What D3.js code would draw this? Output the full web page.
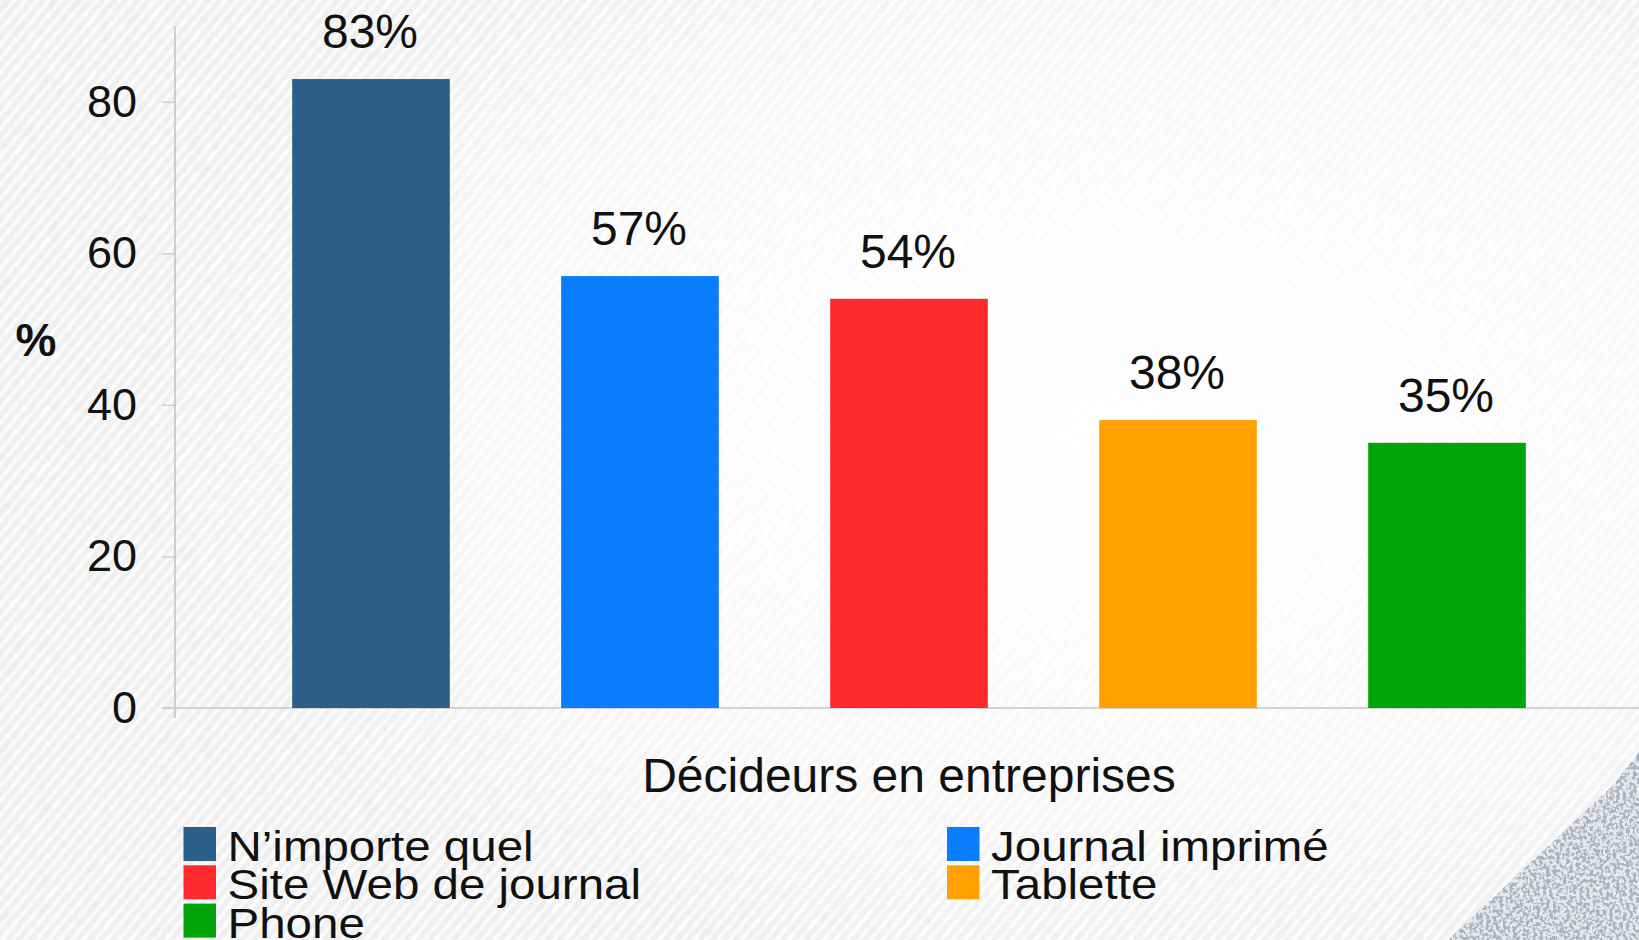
<!DOCTYPE html>
<html lang="fr">
<head>
<meta charset="utf-8">
<title>Décideurs en entreprises</title>
<script src="https://cdn.jsdelivr.net/npm/d3@7"></script>
<style>
  html, body { margin: 0; padding: 0; background: #f2f2f2; }
  svg { display: block; }
  text { font-family: "Liberation Sans", Arial, Helvetica, sans-serif; }
</style>
</head>
<body>
<svg id="chart" width="1639" height="940"></svg>
<script>
// Share of business decision makers reached, by medium
const categories = ["N\u2019importe quel", "Journal imprimé", "Site Web de journal", "Tablette", "Phone"];
const values = [83, 57, 54, 38, 35];
const colors = ["#2b5e88", "#0a7dfc", "#fe2a2e", "#ffa100", "#00a50b"];
const yTicks = [0, 20, 40, 60, 80];
const groupLabel = "Décideurs en entreprises";
const yLabel = "%";

const W = 1639, H = 940;
const svg = d3.select("#chart");
const defs = svg.append("defs");

// ---- textured paper background ----
const hatch = defs.append("pattern")
  .attr("id", "hatch").attr("patternUnits", "userSpaceOnUse")
  .attr("width", 9).attr("height", 9)
  .attr("patternTransform", "rotate(40)");
hatch.append("rect").attr("width", 9).attr("height", 9).attr("fill", "#eeeeee");
hatch.append("rect").attr("width", 4).attr("height", 9).attr("fill", "#fbfbfb");

const glow = defs.append("radialGradient")
  .attr("id", "glow").attr("cx", 0.68).attr("cy", 0.45).attr("r", 0.6);
glow.append("stop").attr("offset", 0).attr("stop-color", "#ffffff").attr("stop-opacity", 0.95);
glow.append("stop").attr("offset", 0.55).attr("stop-color", "#ffffff").attr("stop-opacity", 0.7);
glow.append("stop").attr("offset", 1).attr("stop-color", "#ffffff").attr("stop-opacity", 0.15);

const grain = defs.append("filter").attr("id", "grain")
  .attr("x", 0).attr("y", 0).attr("width", "100%").attr("height", "100%");
grain.append("feTurbulence").attr("type", "fractalNoise")
  .attr("baseFrequency", 0.08).attr("numOctaves", 3).attr("seed", 4).attr("result", "n");
grain.append("feColorMatrix").attr("type", "matrix")
  .attr("values", "0 0 0 0 0.55  0 0 0 0 0.55  0 0 0 0 0.56  0 0 0 -1.6 0.9");

const speck = defs.append("filter").attr("id", "speck")
  .attr("x", 0).attr("y", 0).attr("width", "100%").attr("height", "100%");
speck.append("feTurbulence").attr("type", "fractalNoise")
  .attr("baseFrequency", 0.3).attr("numOctaves", 2).attr("seed", 9).attr("result", "n");
speck.append("feColorMatrix").attr("type", "matrix")
  .attr("values", "0 0 0 0 0.30  0 0 0 0 0.33  0 0 0 0 0.40  0 0 0 -7 3.9").attr("result", "c");
speck.append("feComposite").attr("in", "c").attr("in2", "SourceGraphic").attr("operator", "in");

svg.append("rect").attr("width", W).attr("height", H).attr("fill", "url(#hatch)");
svg.append("rect").attr("width", W).attr("height", H).attr("filter", "url(#grain)").attr("opacity", 0.18);
svg.append("rect").attr("width", W).attr("height", H).attr("fill", "url(#glow)");

// speckled corner decoration
const cornerPath = "M1612,786 L1639,752 L1639,940 L1448,940 Z";
svg.append("path").attr("d", cornerPath).attr("fill", "#e3e5ea").attr("opacity", 0.8);
svg.append("path").attr("d", cornerPath)
  .attr("fill", "#000").attr("filter", "url(#speck)").attr("opacity", 0.7);

// ---- scales ----
const x = d3.scaleBand()
  .domain(categories)
  .range([236.5, 1581.5])
  .paddingInner(0.414)
  .paddingOuter(0.207);

const y = d3.scaleLinear().domain([0, 90]).range([708, 26]);

const axisX = 175;
const g = svg.append("g");

// x baseline
g.append("line")
  .attr("x1", axisX - 13).attr("x2", W)
  .attr("y1", y(0)).attr("y2", y(0))
  .attr("stroke", "#c6c6c6").attr("stroke-width", 1.6);

// y axis
const yAxis = g.append("g")
  .attr("transform", `translate(${axisX},0)`)
  .call(d3.axisLeft(y).tickValues(yTicks).tickSize(13).tickPadding(25).tickFormat(d3.format("d")));
yAxis.select(".domain").remove();
yAxis.selectAll(".tick line").attr("stroke", "#cfcfcf").attr("stroke-width", 1.4);
yAxis.selectAll(".tick text")
  .attr("fill", "#111").attr("font-size", 45)
  .attr("font-family", "'Liberation Sans', Arial, sans-serif");
g.append("line")
  .attr("x1", axisX).attr("x2", axisX)
  .attr("y1", y(90)).attr("y2", y(0) + 10)
  .attr("stroke", "#c4c4c4").attr("stroke-width", 1.6);

// y label
g.append("text")
  .attr("x", 36).attr("y", 356)
  .attr("text-anchor", "middle")
  .attr("font-size", 46).attr("font-weight", "bold").attr("fill", "#111")
  .text(yLabel);

// bars
g.selectAll("rect.bar")
  .data(values)
  .join("rect")
  .attr("class", "bar")
  .attr("x", (d, i) => x(categories[i]))
  .attr("width", x.bandwidth())
  .attr("y", d => y(d))
  .attr("height", d => y(0) - y(d))
  .attr("fill", (d, i) => colors[i]);

// value labels
g.selectAll("text.val")
  .data(values)
  .join("text")
  .attr("class", "val")
  .attr("x", (d, i) => x(categories[i]) + x.bandwidth() / 2 - 1)
  .attr("y", d => y(d) - 31)
  .attr("text-anchor", "middle")
  .attr("font-size", 48).attr("fill", "#111")
  .text(d => d + "%");

// group label under the axis
g.append("text")
  .attr("x", x(categories[2]) + x.bandwidth() / 2)
  .attr("y", 792)
  .attr("text-anchor", "middle")
  .attr("font-size", 48).attr("fill", "#111")
  .text(groupLabel);

// legend: two columns, filled row by row
const legend = g.append("g");
const colX = [183.5, 947];
const rowY = 861, rowStep = 38.3;
const items = legend.selectAll("g.item")
  .data(categories)
  .join("g")
  .attr("class", "item")
  .attr("transform", (d, i) => `translate(${colX[i % 2]},${rowY + Math.floor(i / 2) * rowStep})`);
items.append("rect")
  .attr("x", 0).attr("y", -34)
  .attr("width", 32.5).attr("height", 34)
  .attr("fill", (d, i) => colors[i]);
items.append("text")
  .attr("transform", "translate(44,0) scale(1,0.9)")
  .attr("font-size", 47.5).attr("fill", "#111")
  .text(d => d);
</script>
</body>
</html>
